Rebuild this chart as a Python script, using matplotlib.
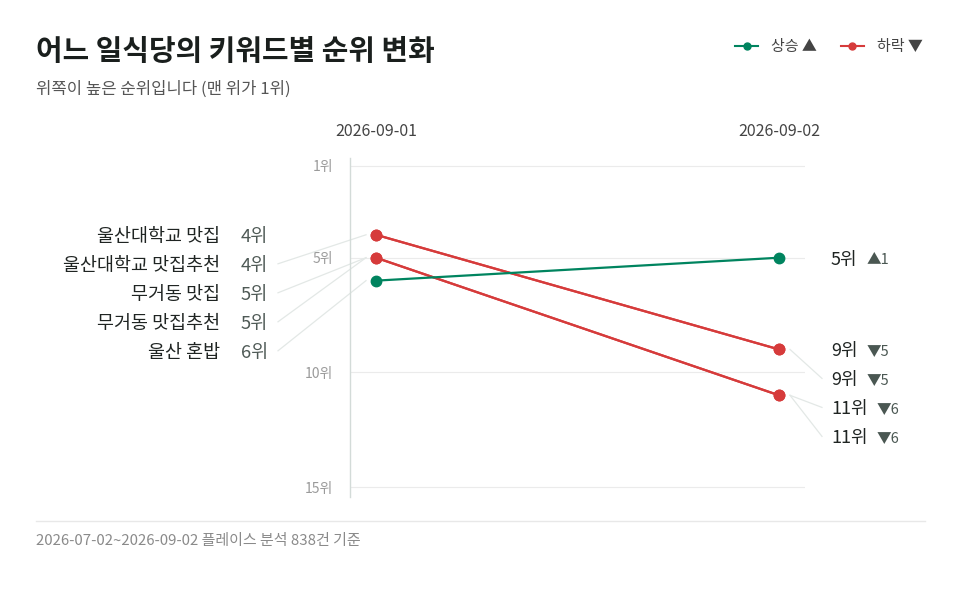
import matplotlib
matplotlib.use('Agg')
import matplotlib.pyplot as plt
from matplotlib.lines import Line2D

plt.rcParams['font.family'] = ['Noto Sans CJK KR', 'DejaVu Sans']

title = '어느 일식당의 키워드별 순위 변화'
subtitle = '위쪽이 높은 순위입니다 (맨 위가 1위)'
footer = '2026-07-02~2026-09-02 플레이스 분석 838건 기준'
dates = ['2026-09-01', '2026-09-02']
keywords = ['울산대학교 맛집', '울산대학교 맛집추천', '무거동 맛집', '무거동 맛집추천', '울산 혼밥']
rank_start = [4, 4, 5, 5, 6]
rank_end = [9, 9, 11, 11, 5]
rank_ticks = [1, 5, 10, 15]
legend_labels = ['상승 ▲', '하락 ▼']

GREEN = '#00845f'
RED = '#d63b3b'
LEADER = '#e3e8e6'

W, H = 960, 589
fig = plt.figure(figsize=(W / 100, H / 100), dpi=100)
ax = fig.add_axes([350 / W, 1 - 497 / H, 455 / W, 339 / H])
ax.set_xlim(-26 / 403, 1 + 26 / 403)
ax.set_ylim(15 + 10 / 22.93, 1 - 8 / 22.93)

for s in ['top', 'right', 'bottom']:
    ax.spines[s].set_visible(False)
ax.spines['left'].set_color('#d3dbd8')
ax.spines['left'].set_linewidth(1)

ax.set_yticks(rank_ticks)
ax.set_yticklabels([f'{r}위' for r in rank_ticks])
ax.tick_params(axis='y', length=0, pad=12, labelsize=10, labelcolor='#9a9a9a')
ax.yaxis.grid(True, color='#ebebeb', lw=0.8)
ax.set_axisbelow(True)

ax.xaxis.tick_top()
ax.set_xticks([0, 1])
ax.set_xticklabels(dates)
ax.tick_params(axis='x', length=0, pad=13, labelsize=11.5, labelcolor='#444444')

# pixel helpers
fig.canvas.draw()
x0 = ax.transData.transform((0, 1))[0]
x1 = ax.transData.transform((1, 1))[0]
px_per_x = x1 - x0
py_per_rank = abs(ax.transData.transform((0, 2))[1] - ax.transData.transform((0, 1))[1])
def xoff(px):
    return px / px_per_x
tshift = 2 / py_per_rank

# lines
for s, e in zip(rank_start, rank_end):
    c = GREEN if e < s else RED
    ax.plot([0, 1], [s, e], color=c, lw=1.6, marker='o', ms=7.5, zorder=3, clip_on=False)

gap = 29 / py_per_rank

# left labels
order = sorted(range(len(keywords)), key=lambda i: rank_start[i])
prev = -1e9
for i in order:
    r = rank_start[i]
    ly = max(r, prev + gap)
    prev = ly
    ax.text(xoff(-156), ly + tshift, keywords[i], ha='right', va='center', fontsize=13.3,
            color='#1f2422', clip_on=False)
    ax.text(xoff(-108), ly + tshift, f'{r}위', ha='right', va='center', fontsize=13.3,
            color='#4f5a56', clip_on=False)
    if abs(ly - r) > 0.01:
        ax.plot([xoff(-98), xoff(-10)], [ly, r], color=LEADER, lw=0.9, clip_on=False, zorder=1)

# right labels
order = sorted(range(len(keywords)), key=lambda i: rank_end[i])
prev = -1e9
for i in order:
    r = rank_end[i]
    ly = max(r, prev + gap)
    prev = ly
    t = ax.text(1 + xoff(52), ly + tshift, f'{r}위', ha='left', va='center', fontsize=13,
                color='#1f2422', clip_on=False)
    d = rank_start[i] - r
    sym = '▲' if d > 0 else '▼'
    ax.annotate(f'{sym}{abs(d)}', xy=(1, 0.5), xycoords=t, xytext=(9, 0),
                textcoords='offset pixels', ha='left', va='center', fontsize=10.5,
                color='#4a5752', annotation_clip=False)
    if abs(ly - r) > 0.01:
        ax.plot([1 + xoff(11), 1 + xoff(43)], [r, ly], color=LEADER, lw=0.9, clip_on=False, zorder=1)

# legend
handles = [Line2D([], [], color=GREEN, marker='o', ms=5, lw=1.5),
           Line2D([], [], color=RED, marker='o', ms=5, lw=1.5)]
fig.legend(handles, legend_labels, loc='center right', bbox_to_anchor=(923 / W, 1 - 47 / H),
           ncol=2, frameon=False, handlelength=1.5, columnspacing=1.6, handletextpad=0.9,
           fontsize=10.8, labelcolor='#444444', borderaxespad=0, borderpad=0)

fig.text(36 / W, 1 - 51 / H, title, fontsize=20.8, weight='bold', va='center', color='#1a1f1d')
fig.text(36 / W, 1 - 89 / H, subtitle, fontsize=12, va='center', color='#555555')
fig.add_artist(Line2D([36 / W, 925 / W], [1 - 521 / H] * 2, color='#e8e8e8', lw=1))
fig.text(36 / W, 1 - 541 / H, footer, fontsize=10.8, va='center', color='#8a8a8a')

fig.savefig('out.png', dpi=100)
